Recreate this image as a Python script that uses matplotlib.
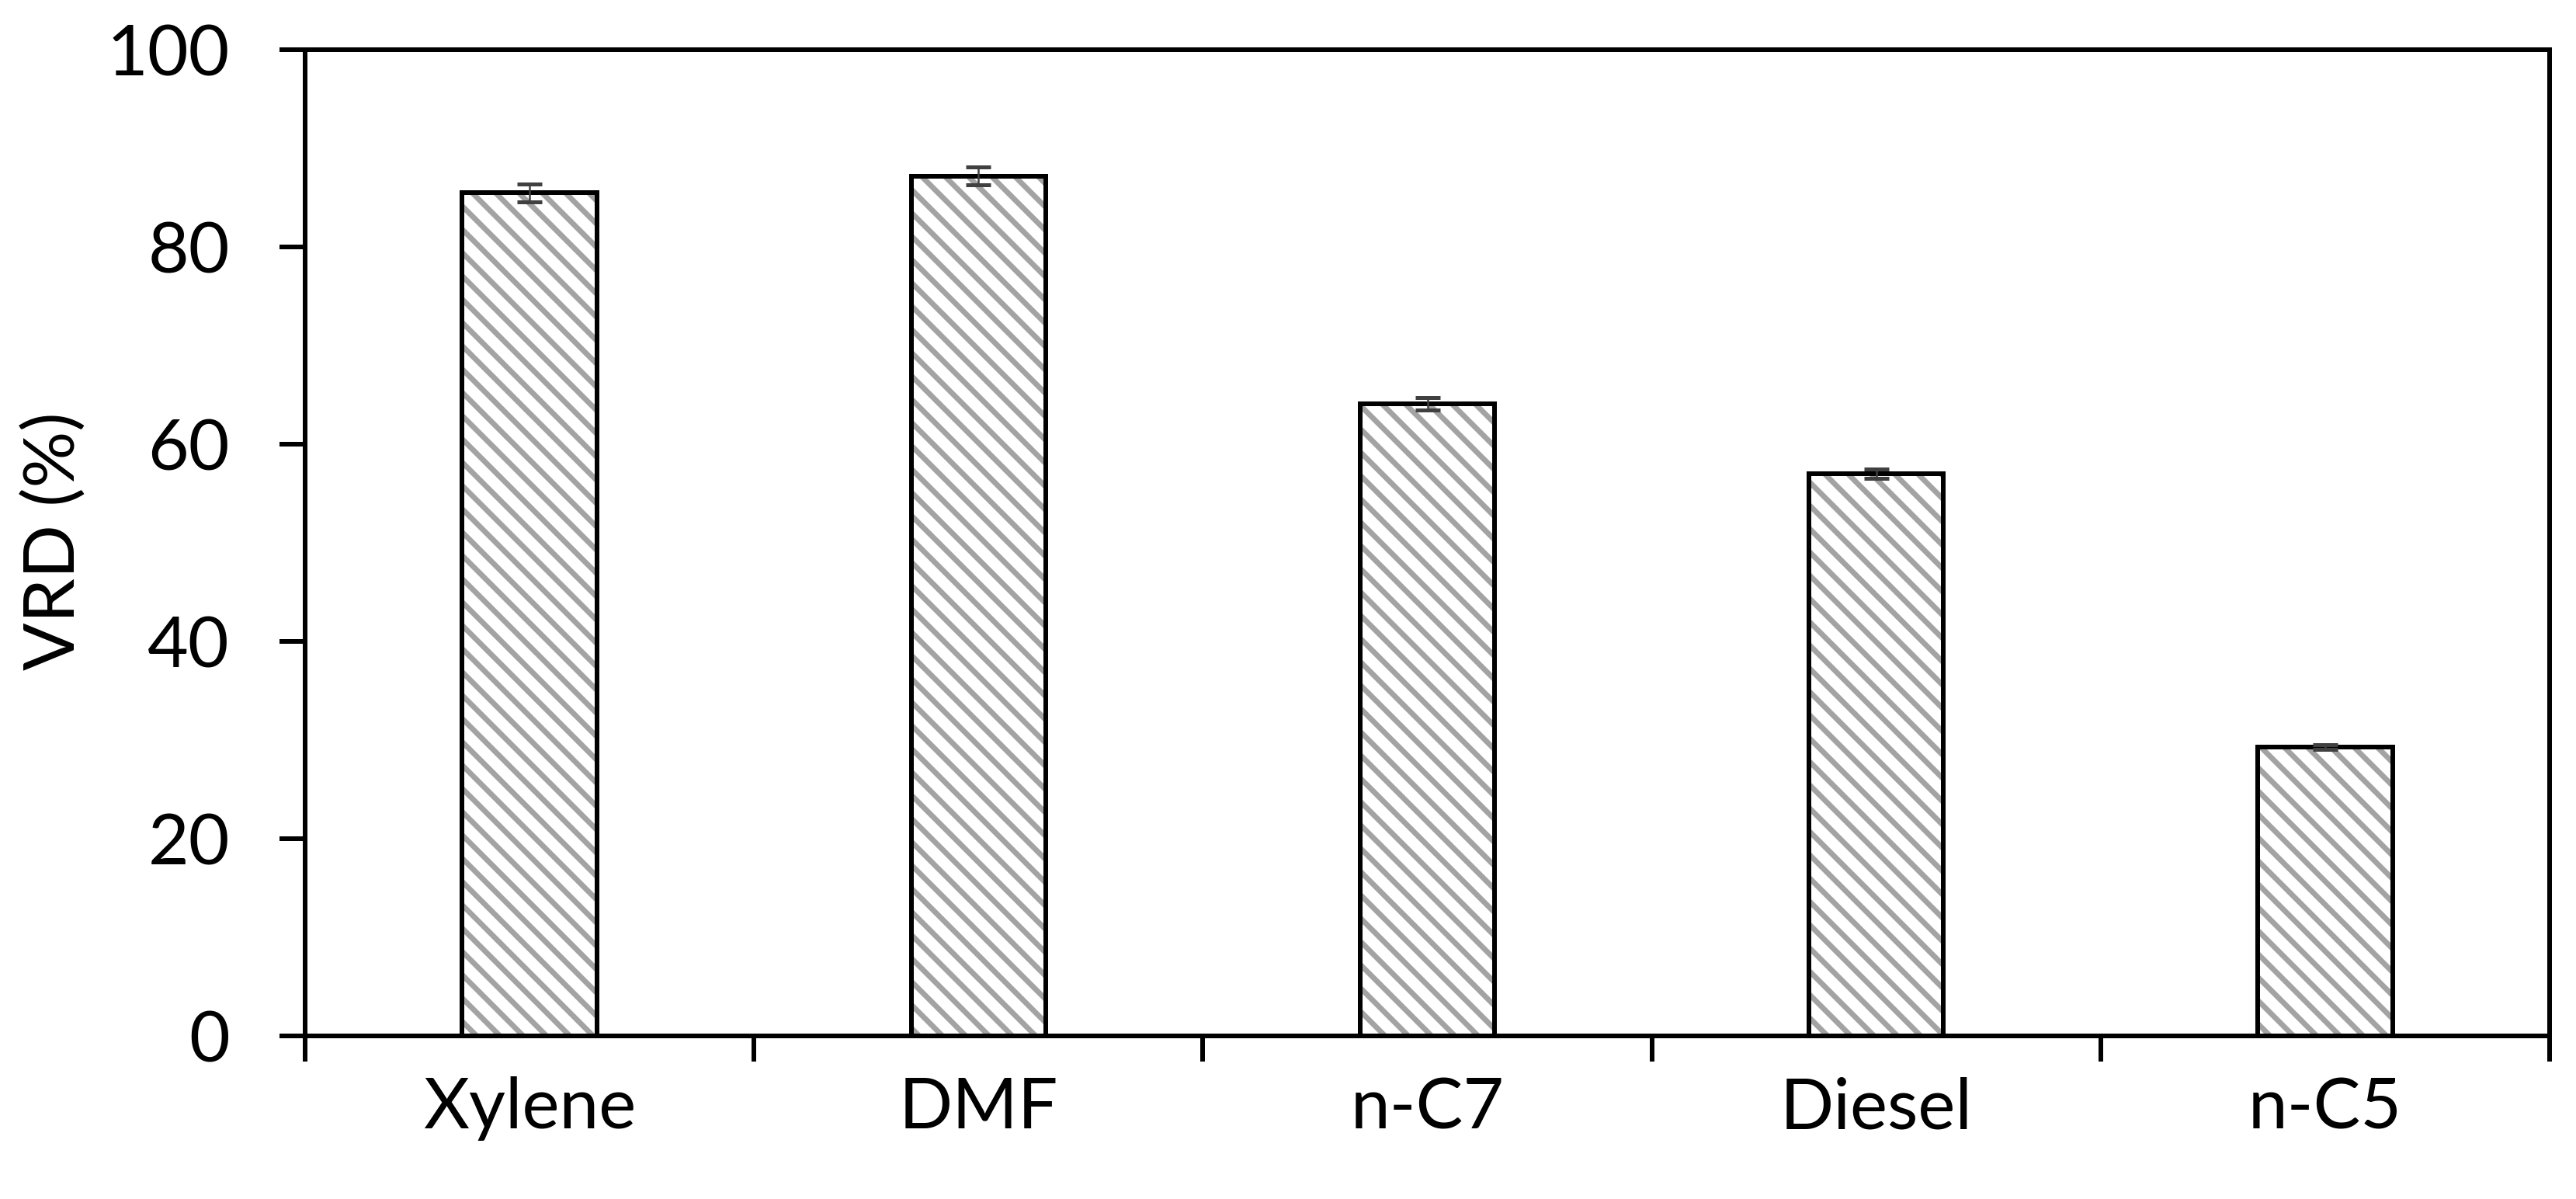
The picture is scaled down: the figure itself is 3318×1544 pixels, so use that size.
import matplotlib
matplotlib.use("Agg")
import matplotlib.pyplot as plt
import numpy as np

categories = ["Xylene", "DMF", "n-C7", "Diesel", "n-C5"]
vrd = [85.5, 87.2, 64.1, 57.0, 29.3]
vrd_err = [0.9, 0.9, 0.6, 0.45, 0.25]
y_ticks = [0, 20, 40, 60, 80, 100]

DPI = 270


def pt(px):
    return px * 72.0 / DPI


plt.rcParams['font.family'] = ['Lato', 'DejaVu Sans']
plt.rcParams['hatch.linewidth'] = pt(7.0)

fs = pt(91)

fig = plt.figure(figsize=(3318 / DPI, 1544 / DPI), dpi=DPI)
ax = fig.add_axes([393 / 3318, 1 - 1334 / 1544, (3284 - 393) / 3318, (1334 - 64) / 1544])

x = np.arange(len(categories))
# hatch layer (gray stripes)
ax.bar(x, vrd, width=0.3, color='white', edgecolor='#a3a3a3', linewidth=0,
       hatch='\\\\\\', zorder=2)
# outline layer
ax.bar(x, vrd, width=0.3, fill=False, edgecolor='black', linewidth=pt(6), zorder=2.5)
ax.errorbar(x, vrd, yerr=vrd_err, fmt='none', ecolor='#404040', elinewidth=pt(2.5),
            capsize=pt(16), capthick=pt(5), zorder=3)

ax.set_xlim(-0.5, len(categories) - 0.5)
ax.set_ylim(0, 100)
ax.set_yticks(y_ticks)
ax.set_yticklabels([str(v) for v in y_ticks], fontsize=fs)

ax.set_xticks(np.arange(-0.5, len(categories), 1.0))
ax.set_xticklabels([])
ax.set_xticks(x, minor=True)
ax.set_xticklabels(categories, minor=True, fontsize=fs)
ax.tick_params(axis='x', which='major', direction='out', length=pt(33), width=pt(6))
ax.tick_params(axis='x', which='minor', length=0, pad=pt(52))
ax.tick_params(axis='y', direction='out', length=pt(33), width=pt(6), pad=pt(64))

for s in ax.spines.values():
    s.set_linewidth(pt(6))
    s.set_color('black')

fig.text(70 / 3318, 1 - 697 / 1544, "VRD (%)", rotation=90, ha='center', va='center',
         fontsize=fs)

fig.savefig("out.png", dpi=DPI, facecolor='white')
